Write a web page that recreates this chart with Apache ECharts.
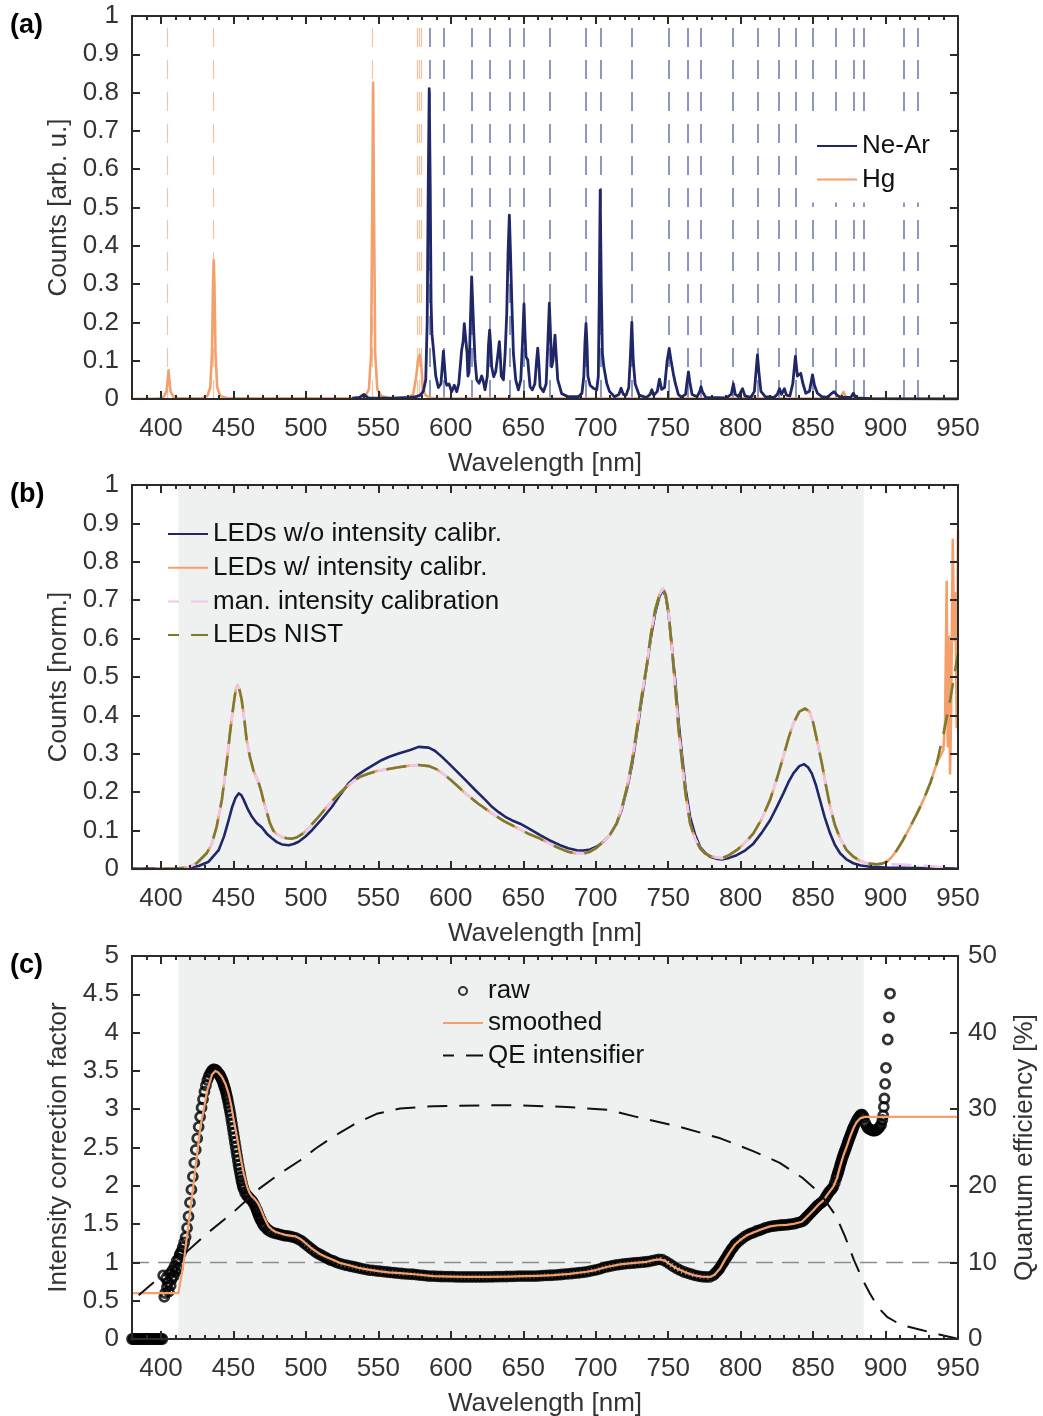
<!DOCTYPE html>
<html><head><meta charset="utf-8">
<script src="https://cdn.jsdelivr.net/npm/echarts@6/dist/echarts.min.js"></script>
<style>html,body{margin:0;padding:0;background:#fff}#chart{width:1043px;height:1416px}</style>
</head><body><div id="chart"></div>
<script>
// ---------------- tick values ----------------
const xMajorTicks = [400,450,500,550,600,650,700,750,800,850,900,950];
const xMinorTicks = [380,390,400,410,420,430,440,450,460,470,480,490,500,510,520,530,540,550,560,570,580,590,600,610,620,630,640,650,660,670,680,690,700,710,720,730,740,750,760,770,780,790,800,810,820,830,840,850,860,870,880,890,900,910,920,930,940,950];

// ---------------- panel (a) ----------------
const neArLineNm = [585.2,594.9,614.4,626.8,640.4,650.6,668.0,693.0,703.3,724.7,750.5,763.6,772.6,794.9,811.7,826.6,837.7,849.7,865.3,878.4,885.1,912.3,922.5];
const hgLineNm = [404.6,435.9,546.0,577.0,578.2,579.3];

const neArSpectrum = [[532,0.002],[537,0.004],[540,0.012],[543,0.003],[560,0.002],[572,0.004],[576,0.006],[579,0.01],[581,0.02],[582.7,0.05],[583.7,0.2],[584.4,0.55],[585.1,0.81],[585.8,0.55],[586.4,0.25],[587,0.17],[588,0.13],[589.6,0.06],[591.4,0.03],[593.2,0.04],[594.2,0.09],[594.9,0.125],[595.6,0.09],[596.5,0.045],[597.2,0.036],[598.8,0.039],[600.6,0.019],[602.4,0.036],[604.1,0.019],[605.5,0.04],[607.5,0.128],[608.5,0.15],[609.3,0.197],[610.5,0.193],[611.2,0.12],[611.8,0.06],[612.6,0.07],[613.5,0.2],[614.4,0.319],[615.2,0.24],[615.8,0.18],[616.7,0.102],[617.9,0.05],[619.5,0.041],[621.3,0.06],[622.5,0.045],[623.6,0.024],[625.2,0.06],[626,0.14],[626.8,0.18],[627.5,0.14],[628.2,0.084],[629.6,0.058],[631,0.072],[632.3,0.11],[633.5,0.15],[634.2,0.11],[634.8,0.06],[636.3,0.05],[637.5,0.12],[638.6,0.224],[639.5,0.38],[640.4,0.48],[641.2,0.38],[642,0.267],[643.2,0.119],[644.8,0.05],[646.6,0.024],[648.3,0.05],[649.5,0.15],[650.5,0.248],[651.3,0.16],[651.9,0.11],[653.1,0.102],[653.8,0.07],[654.7,0.032],[656.3,0.024],[658,0.04],[659.2,0.1],[660,0.133],[660.8,0.09],[661.6,0.032],[663.9,0.019],[665.8,0.04],[667,0.15],[668,0.25],[668.9,0.16],[669.6,0.084],[670.5,0.1],[671.9,0.167],[672.8,0.11],[673.8,0.05],[676.5,0.014],[681,0.006],[688,0.006],[690.5,0.015],[691.8,0.06],[692.6,0.15],[693.3,0.197],[694,0.14],[694.6,0.06],[696.1,0.036],[698.4,0.028],[700.7,0.024],[701.8,0.06],[702.4,0.25],[703.1,0.545],[703.8,0.3],[704.6,0.12],[705.6,0.084],[707.6,0.041],[709.5,0.02],[713,0.006],[716,0.012],[717.5,0.028],[719,0.012],[721,0.01],[722.8,0.03],[723.8,0.1],[724.9,0.2],[725.9,0.1],[727.2,0.04],[730,0.01],[735,0.004],[737.5,0.012],[738.7,0.024],[740,0.01],[742.5,0.02],[744,0.052],[745.5,0.025],[747.5,0.03],[749.3,0.1],[750.7,0.132],[752.2,0.095],[753.6,0.065],[755,0.04],[757,0.012],[759,0.005],[762,0.012],[763.2,0.05],[764,0.071],[764.9,0.045],[766.5,0.012],[770,0.006],[771.8,0.02],[772.7,0.032],[773.7,0.018],[776,0.004],[790,0.003],[793.5,0.012],[795,0.04],[796.3,0.012],[798.5,0.006],[801.3,0.027],[803,0.008],[807,0.004],[809.5,0.02],[810.6,0.07],[811.6,0.115],[812.6,0.07],[814,0.02],[817,0.006],[823,0.004],[825.3,0.012],[826.8,0.027],[828.2,0.012],[830.2,0.027],[831.6,0.01],[834,0.008],[836,0.04],[837.8,0.111],[839.2,0.06],[840,0.058],[841.5,0.067],[843,0.04],[845,0.015],[847.5,0.02],[849.6,0.063],[851,0.035],[853,0.015],[856,0.006],[860,0.004],[862,0.012],[864.5,0.019],[866.5,0.01],[869,0.004],[876,0.004],[877.8,0.015],[879.5,0.003],[890,0.001],[950,0]];

const hgSpectrum = [[380,0],[398,0.001],[402,0.006],[403.8,0.02],[404.6,0.05],[405.2,0.075],[405.8,0.05],[406.6,0.02],[408.5,0.006],[412,0.002],[428,0.002],[432,0.008],[434,0.03],[435.2,0.12],[435.9,0.3],[436.4,0.362],[436.9,0.3],[437.6,0.12],[438.8,0.03],[441,0.008],[446,0.002],[536,0.002],[541,0.008],[543.5,0.025],[545,0.12],[545.8,0.5],[546.4,0.826],[547,0.5],[547.8,0.12],[549.3,0.025],[552,0.008],[558,0.002],[570,0.003],[574,0.012],[576.2,0.06],[577.3,0.1],[578.6,0.115],[579.6,0.09],[580.5,0.04],[582,0.012],[585,0.004],[590,0.001],[800,0.001],[808.8,0.006],[812,0.001],[868,0.001],[871,0.018],[873,0.001],[950,0]];

// ---------------- panel (b) ----------------
const ledsUncalibrated = [[380,0.002],[412,0.002],[417.7,0.003],[426,0.008],[432.9,0.019],[439.8,0.049],[443.5,0.085],[446.7,0.127],[449,0.16],[451.3,0.184],[453.6,0.197],[455.5,0.192],[457.1,0.18],[460,0.155],[462.8,0.136],[466,0.12],[469.7,0.108],[473,0.092],[476.6,0.08],[480,0.07],[483.5,0.064],[488.1,0.062],[491.5,0.065],[495,0.071],[499.5,0.084],[504.2,0.101],[511,0.13],[518,0.162],[524,0.195],[529.5,0.223],[535,0.243],[541,0.258],[547,0.272],[552.5,0.284],[558,0.293],[564,0.301],[572,0.31],[577.8,0.318],[584.7,0.316],[589,0.308],[593.9,0.292],[600,0.27],[605,0.251],[610,0.232],[617,0.205],[623.8,0.18],[628.4,0.162],[633,0.148],[637.6,0.136],[642,0.127],[647.8,0.118],[654,0.105],[661.6,0.088],[668,0.075],[675.4,0.062],[681,0.054],[686.9,0.049],[691.5,0.048],[696.1,0.051],[700.5,0.058],[705.3,0.071],[710,0.09],[714.5,0.119],[718,0.155],[721.4,0.206],[725,0.27],[728.3,0.353],[731.7,0.44],[735.2,0.527],[738,0.6],[741,0.666],[744,0.71],[746.3,0.727],[748.3,0.71],[750.2,0.666],[752.5,0.58],[754.8,0.493],[757,0.39],[759.4,0.302],[762,0.21],[765.1,0.136],[768.5,0.09],[772,0.058],[775.5,0.042],[778.9,0.032],[783,0.027],[787,0.025],[792,0.029],[797.3,0.036],[803,0.048],[808.8,0.066],[814.5,0.094],[820.3,0.127],[825,0.162],[829.5,0.197],[833,0.226],[836.4,0.249],[840.5,0.268],[843.8,0.273],[846.5,0.265],[849.1,0.249],[852,0.218],[854.8,0.179],[858,0.135],[861.7,0.093],[865,0.063],[868.6,0.041],[873,0.025],[877.8,0.015],[883,0.009],[889.3,0.006],[900,0.004],[912.4,0.003],[935.4,0.002],[950,0.001]];

const ledsNist = [[380,0],[412,0.001],[417.7,0.003],[424.6,0.015],[431.5,0.041],[435,0.065],[438.4,0.11],[442,0.18],[445.3,0.275],[447.8,0.36],[449.9,0.423],[451.5,0.465],[452.7,0.479],[454,0.47],[455.7,0.44],[457.5,0.39],[459.1,0.336],[461.5,0.29],[463.7,0.258],[465.5,0.24],[467.2,0.227],[469,0.205],[470.6,0.18],[473,0.148],[475.2,0.119],[477.5,0.1],[479.8,0.091],[483,0.084],[486.7,0.08],[490,0.079],[493.6,0.082],[497,0.09],[500.5,0.101],[505,0.12],[509.7,0.14],[514,0.16],[518.9,0.18],[523.5,0.198],[528.1,0.214],[532.5,0.228],[537.3,0.24],[543,0.248],[548.8,0.255],[556,0.26],[564,0.265],[571,0.269],[577.8,0.271],[585,0.268],[590,0.26],[594,0.25],[600,0.232],[605,0.215],[610,0.197],[619,0.17],[628.4,0.145],[637,0.124],[646.8,0.105],[654,0.091],[661.6,0.079],[668,0.066],[675.4,0.053],[681,0.045],[686.9,0.04],[691.5,0.04],[696.1,0.045],[700.5,0.055],[705.3,0.071],[710,0.09],[714.5,0.119],[718,0.16],[721.4,0.21],[725,0.28],[728.3,0.362],[731.7,0.45],[735.2,0.53],[738,0.61],[741,0.675],[744,0.715],[746.3,0.731],[748.3,0.715],[750.2,0.67],[752.5,0.58],[754.8,0.475],[757,0.37],[759.4,0.284],[762,0.195],[765.1,0.119],[768.5,0.08],[772,0.054],[775.5,0.04],[778.9,0.034],[783,0.03],[787,0.028],[792,0.036],[797.3,0.049],[803,0.068],[808.8,0.093],[814.5,0.13],[820.3,0.18],[825,0.235],[829.5,0.293],[833,0.34],[836.4,0.379],[840.5,0.41],[844.5,0.418],[847.5,0.41],[850.2,0.379],[853,0.33],[856,0.276],[859,0.215],[861.7,0.163],[865,0.115],[868.6,0.08],[873,0.05],[877.8,0.032],[882,0.022],[887,0.015],[894,0.012],[897.5,0.014],[900.9,0.019],[904,0.03],[907.8,0.049],[912,0.075],[917,0.11],[921.5,0.143],[926.2,0.18],[931,0.225],[935.4,0.276],[940,0.353],[944.6,0.44],[949.2,0.544],[950,0.56]];

// calibrated LEDs follow the NIST curve up to ~939 nm, then the noisy tail read below
const ledsCalibratedTail = [[939.9,0.31],[941.1,0.388],[942.2,0.748],[942.9,0.32],[943.8,0.605],[944.5,0.249],[945.2,0.397],[946.4,0.857],[947.3,0.596],[948.2,0.718],[949.1,0.37],[950,0.883]];
// manual calibration follows the NIST curve up to ~894 nm, then this flat tail
const manCalibrationTail = [[897,0.012],[905,0.012],[915,0.011],[925,0.009],[935,0.006],[945,0.002],[950,0]];

// ---------------- panel (c) ----------------
const rawFactor = [[380,0],[381,0],[382,0],[383,0],[384,0],[385,0],[386,0],[387,0],[388,0],[389,0],[390,0],[391,0],[392,0],[393,0],[394,0],[395,0],[396,0],[397,0],[398,0],[399,0],[400,0],[401,0],
[401.5,0.83],[402.3,0.55],[402.9,0.6],[403.5,0.79],[404.1,0.68],[404.8,0.74],[405.4,0.62],[406,0.85],[406.7,0.7],[407.3,0.78],[408,0.9],[408.7,0.82],[409.4,0.95],[410.1,0.88],[410.8,1.02],[411.5,0.92],[412.2,1.05],[412.9,1.1],[413.6,1.12],[414.3,1.15],[415,1.2],[416,1.26],
[417,1.33],[418,1.45],[419,1.6],[420,1.78],[421,1.95],[422,2.12],[423,2.3],[424,2.47],[425,2.62],[426,2.77],[427,2.9],[428,3.02],[429,3.13],[430,3.23],[431,3.31],[432,3.38],[433,3.43],[434,3.47],[435,3.5],[436,3.52],[437,3.52],[438,3.51],[439,3.49],[440,3.46],[440.5,3.45],[441,3.43],[441.5,3.41],[442,3.39],[442.5,3.37],[443,3.34],[443.5,3.31],[444,3.28],[444.5,3.25],[445,3.21],[445.5,3.17],[446,3.13],[446.5,3.08],[447,3.03],[447.5,2.98],[448,2.93],[448.5,2.87],[449,2.81],[449.5,2.75],[450,2.69],[450.5,2.63],[451,2.57],[451.5,2.51],[452,2.45],[452.5,2.39],[453,2.33],[453.5,2.27],[454,2.22],[454.5,2.17],[455,2.12],[455.5,2.07],[456,2.03],[456.5,1.99],[457,1.96],[458,1.91],[459,1.88],[460,1.86],[461,1.84],[462,1.82],[463,1.8],[464,1.77],[465,1.73],[466,1.69],[466.5,1.665],[467,1.64],[467.5,1.615],[468,1.59],[468.5,1.57],[469,1.55],[470,1.51],[471,1.48],[472,1.46],[473.5,1.43],[475,1.41],[477,1.39],[479,1.38],[481,1.37],[483,1.36],[485,1.35],[487,1.345],[489,1.34],[491,1.33],[493,1.32],[495,1.3],[497,1.28],[499,1.25],[501,1.22],[503,1.19],[505,1.16],[507,1.13],[509,1.11],[511,1.09],[513,1.07],[515,1.05],[517,1.03],[519,1.02],[521,1.0],[523.5,0.985],[526,0.97],[528.5,0.96],[531,0.95],[533.5,0.94],[536,0.93],[538.5,0.92],[541,0.91],[543.5,0.9],[546,0.895],[548.5,0.89],[551,0.885],[553.5,0.88],[556,0.875],[558.5,0.87],[561,0.865],[563.5,0.86],[566,0.855],[568.5,0.85],[571,0.848],[573.5,0.845],[576,0.84],[578.5,0.835],[581,0.83],[583.5,0.825],[586,0.822],[588.5,0.82],[591,0.818],[593.5,0.816],[596,0.815],[598.5,0.814],[601,0.813],[603.5,0.812],[606,0.81],[608.5,0.81],[611,0.81],[613.5,0.81],[616,0.81],[618.5,0.81],[621,0.81],[623.5,0.81],[626,0.812],[628.5,0.812],[631,0.813],[633.5,0.814],[636,0.815],[638.5,0.816],[641,0.817],[643.5,0.818],[646,0.82],[648.5,0.82],[651,0.82],[653.5,0.82],[656,0.82],[658.5,0.822],[661,0.825],[663.5,0.827],[666,0.83],[668.5,0.832],[671,0.834],[673.5,0.838],[676,0.842],[678.5,0.846],[681,0.85],[683.5,0.855],[686,0.86],[688.5,0.865],[691,0.87],[693.5,0.877],[696,0.887],[698.5,0.895],[701,0.905],[703.5,0.92],[706,0.935],[708.5,0.945],[711,0.955],[713.5,0.965],[716,0.972],[718.5,0.978],[721,0.983],[723.5,0.988],[726,0.992],[728.5,0.996],[731,1.0],[733.5,1.005],[736,1.01],[738.5,1.02],[741,1.03],[743.5,1.04],[746,1.035],[748.5,1.01],[751,0.98],[753.5,0.95],[756,0.92],[758.5,0.895],[761,0.875],[763.5,0.86],[766,0.845],[768.5,0.83],[771,0.82],[773.5,0.813],[776,0.81],[778.5,0.81],[781,0.83],[782,0.85],[783,0.87],[784,0.89],[785,0.91],[786,0.94],[787,0.97],[788,1.0],[789,1.03],[790,1.06],[791,1.09],[792,1.12],[793,1.15],[794,1.18],[795,1.2],[796,1.23],[797,1.25],[799,1.28],[801,1.31],[803,1.34],[805,1.36],[807,1.38],[809,1.39],[811,1.41],[813,1.42],[815,1.435],[817,1.45],[819,1.46],[821,1.47],[823,1.475],[825,1.48],[827,1.485],[829,1.488],[831,1.49],[833,1.495],[835,1.5],[837,1.505],[839,1.515],[841,1.525],[843,1.54],[844,1.56],[845,1.58],[846,1.6],[847,1.62],[848,1.64],[849,1.66],[850,1.68],[851,1.7],[852,1.72],[853,1.74],[854,1.755],[855,1.77],[856,1.785],[857,1.8],[858,1.83],[859,1.86],[860,1.89],[861,1.92],[862,1.94],[863,1.96],[864,1.99],[865,2.04],[866,2.1],[866.5,2.13],[867,2.16],[867.5,2.19],[868,2.22],[868.5,2.255],[869,2.29],[869.5,2.32],[870,2.35],[870.5,2.38],[871,2.41],[871.5,2.435],[872,2.46],[872.5,2.485],[873,2.51],[873.5,2.54],[874,2.57],[874.5,2.595],[875,2.62],[875.5,2.645],[876,2.67],[876.5,2.695],[877,2.72],[877.5,2.745],[878,2.77],[879,2.81],[880,2.85],[881,2.88],[882,2.91],[883,2.93],[884,2.93],[885,2.9],[886,2.82],[887,2.78],[888,2.75],[889,2.74],[890,2.73],[891,2.72],[892,2.72],[893,2.72],[894,2.73],[895,2.75],[896,2.77],[897,2.8],[897.8,2.86],[898.4,2.92],[898.8,3.03],[899.2,3.14],[899.7,3.33],[900.3,3.54],[901.5,3.91],[902.4,4.2],[903.1,4.51]];

const smoothedFactor = [[380,0.6],[412,0.6],[415.7,1.0],[421.4,1.86],[427.2,2.77],[432,3.25],[435.2,3.45],[437.5,3.5],[439.5,3.48],[442.1,3.42],[444.5,3.33],[446.7,3.2],[448.5,3.05],[450.2,2.86],[452,2.68],[453.6,2.51],[455.4,2.32],[457.1,2.16],[459.4,1.99],[461,1.91],[462.8,1.86],[465,1.82],[467,1.77],[469,1.69],[470.9,1.6],[472.6,1.53],[474.3,1.47],[476.5,1.43],[478.9,1.4],[482,1.38],[485.8,1.36],[489,1.35],[492.7,1.34],[495,1.32],[497.3,1.29],[500.5,1.24],[504.2,1.18],[509.7,1.11],[514,1.07],[519,1.03],[524,0.99],[530.6,0.96],[536,0.93],[542,0.91],[550,0.885],[557,0.87],[565,0.86],[575,0.845],[588,0.82],[600,0.815],[611,0.81],[625,0.81],[640,0.815],[650,0.82],[660,0.825],[670.8,0.834],[682,0.85],[693.8,0.878],[700,0.9],[707.6,0.94],[716.8,0.975],[725,0.99],[735.2,1.008],[740,1.03],[744.4,1.04],[748,1.02],[750,0.99],[755.9,0.92],[762,0.87],[767.4,0.834],[773,0.815],[778.9,0.81],[782,0.84],[785.8,0.92],[789,1.03],[792.7,1.14],[796,1.23],[799.6,1.29],[804,1.35],[808.8,1.39],[814,1.43],[820.3,1.47],[826,1.485],[831.8,1.49],[837,1.505],[842.2,1.53],[846,1.6],[850.2,1.68],[853.5,1.75],[857.1,1.81],[860.5,1.9],[864,1.99],[866.5,2.1],[868.6,2.25],[871,2.4],[873.2,2.51],[875.5,2.64],[877.8,2.75],[880,2.83],[882.4,2.88],[885.9,2.9],[950,2.9]];

const qeIntensifier = [[384.6,5.7],[400,8.2],[416.7,11.2],[430,13.5],[449,16.4],[468.3,19.7],[482,21.6],[495.9,23.3],[507,24.9],[518.9,26.4],[533,28],[548.8,29.4],[565,30.1],[588,30.4],[620,30.5],[648,30.5],[680,30.3],[709,29.9],[728,29.0],[758,27.7],[786,26.2],[809,24.5],[827,23.0],[843,21.0],[855,19.0],[866,16.0],[872,13.4],[878,10.4],[884,7.8],[889,6.0],[895,4.1],[901,2.9],[910,1.9],[924,1.2],[937,0.6],[949,0.06]];

const shadedRange = [412, 885];
const referenceFactor = 1;

// ---------------- styling ----------------
const FONT = '"Liberation Sans", Arial, Helvetica, sans-serif';
const AX = '#2a2a2a';
const TXT = '#333333';
const NAVY = '#1f2768';
const ORANGE = '#f4a06c';
const OLIVE = '#7d7b2b';
const PINK = '#efc6ee';
const SHADE = '#eff1f0';

const grids = [
  {left:132, right:85, top:16, height:383, outerBoundsMode:'none'},
  {left:132, right:85, top:485, height:384, outerBoundsMode:'none'},
  {left:132, right:85, top:956, height:383, outerBoundsMode:'none'}
];

function xAxesFor(g) {
  const base = {type:'value', gridIndex:g, min:380, max:950, z:10, splitLine:{show:false}, axisPointer:{show:false}};
  const line = {show:true, onZero:false, lineStyle:{color:AX, width:2}};
  const noLine = {show:false, onZero:false};
  const major = {show:true, inside:true, length:8, customValues:xMajorTicks, lineStyle:{color:AX, width:2}};
  const minor = {show:true, inside:true, length:4, customValues:xMinorTicks, lineStyle:{color:AX, width:2}};
  return [
    Object.assign({}, base, {position:'bottom', axisLine:line, axisTick:major,
      axisLabel:{show:true, customValues:xMajorTicks, fontSize:26, fontFamily:FONT, color:TXT, margin:17},
      name:'Wavelength [nm]', nameLocation:'middle', nameGap:52,
      nameTextStyle:{fontSize:26, fontFamily:FONT, color:TXT}}),
    Object.assign({}, base, {position:'bottom', axisLine:noLine, axisTick:minor, axisLabel:{show:false}}),
    Object.assign({}, base, {position:'top', axisLine:line, axisTick:major, axisLabel:{show:false}}),
    Object.assign({}, base, {position:'top', axisLine:noLine, axisTick:minor, axisLabel:{show:false}})
  ];
}

function yAxisFor(g, pos, min, max, interval, showLabel, name, gap) {
  const o = {type:'value', gridIndex:g, position:pos, min:min, max:max, interval:interval, z:10,
    splitLine:{show:false}, axisPointer:{show:false},
    axisLine:{show:true, onZero:false, lineStyle:{color:AX, width:2}},
    axisTick:{show:true, inside:true, length:8, lineStyle:{color:AX, width:2}},
    axisLabel:{show:showLabel, fontSize:26, fontFamily:FONT, color:TXT, margin:pos==='left'?13:10}};
  if (name) {
    o.name = name; o.nameLocation = 'middle'; o.nameGap = gap; o.nameRotate = 90;
    o.nameTextStyle = {fontSize:26, fontFamily:FONT, color:TXT};
  }
  return o;
}

const xAxes = [].concat(xAxesFor(0), xAxesFor(1), xAxesFor(2));
const yAxes = [
  yAxisFor(0,'left',0,1,0.1,true,'Counts [arb. u.]',54),
  yAxisFor(0,'right',0,1,0.1,false),
  yAxisFor(1,'left',0,1,0.1,true,'Counts [norm.]',54),
  yAxisFor(1,'right',0,1,0.1,false),
  yAxisFor(2,'left',0,5,0.5,true,'Intensity correction factor',54),
  yAxisFor(2,'right',0,50,10,true,'Quantum efficiency [%]',54)
];

function vLines(nmList, color, width) {
  return {silent:true, symbol:['none','none'], z:1, animation:false,
    label:{show:false}, emphasis:{disabled:true},
    lineStyle:{type:[19,13], width:width, color:color},
    data:nmList.map(function(v){return {xAxis:v};})};
}
function shadeArea() {
  return {silent:true, z:0.5, itemStyle:{color:SHADE}, label:{show:false}, emphasis:{disabled:true},
    data:[[{xAxis:shadedRange[0]},{xAxis:shadedRange[1]}]]};
}
function lineSeries(name, data, xi, yi, color, width, dash, extra) {
  const s = {name:name, type:'line', xAxisIndex:xi, yAxisIndex:yi, data:data, symbol:'none', showSymbol:false,
    color:color, lineStyle:{color:color, width:width, type:dash || 'solid', join:'round', cap:'butt'},
    emphasis:{disabled:true}, animation:false, z:2};
  return Object.assign(s, extra || {});
}

const calibratedLeds = ledsNist.filter(function(p){return p[0] <= 939;}).concat(ledsCalibratedTail);
const manCalibration = ledsNist.filter(function(p){return p[0] <= 894;}).concat(manCalibrationTail);

const series = [
  // (a)
  {name:'NeAr ref', type:'line', xAxisIndex:0, yAxisIndex:0, data:[], markLine:vLines(neArLineNm, '#6877a6', 1.5)},
  {name:'Hg ref', type:'line', xAxisIndex:0, yAxisIndex:0, data:[], markLine:vLines(hgLineNm, '#f7c2a0', 1.2)},
  lineSeries('Hg', hgSpectrum, 0, 0, ORANGE, 2.6),
  lineSeries('Ne-Ar', neArSpectrum, 0, 0, NAVY, 2.8),
  // (b)
  lineSeries('LEDs w/o intensity calibr.', ledsUncalibrated, 4, 2, NAVY, 2.6, null, {markArea:shadeArea()}),
  lineSeries('LEDs w/ intensity calibr.', calibratedLeds, 4, 2, ORANGE, 2.6),
  lineSeries('man. intensity calibration', manCalibration, 4, 2, PINK, 2.6, [20,12], {lineStyle:{color:PINK,width:2.6,type:[20,12],dashOffset:9,join:'round'}}),
  lineSeries('LEDs NIST', ledsNist, 4, 2, OLIVE, 2.6, [20,12]),
  // (c)
  {name:'raw', type:'scatter', xAxisIndex:8, yAxisIndex:4, data:rawFactor, symbol:'circle', symbolSize:9,
    itemStyle:{color:'rgba(0,0,0,0)', borderColor:'#000', borderWidth:2.8}, emphasis:{disabled:true}, animation:false, z:2,
    markArea:shadeArea(),
    markLine:{silent:true, symbol:['none','none'], z:1, label:{show:false}, emphasis:{disabled:true},
      lineStyle:{type:[17,9], width:1.3, color:'#8c8c8c'}, data:[{yAxis:referenceFactor}]}},
  lineSeries('smoothed', smoothedFactor, 8, 4, ORANGE, 2.2, null, {z:3}),
  lineSeries('QE intensifier', qeIntensifier, 8, 5, '#111111', 2, [20,12], {z:4})
];

const legendText = {fontSize:26, fontFamily:FONT, color:'#111', lineHeight:30};
const hideSymbol = {color:'rgba(0,0,0,0)', borderWidth:0, opacity:0};
const legends = [
  {data:['Ne-Ar','Hg'], orient:'vertical', left:812, top:123, padding:[8,6,8,4], backgroundColor:'#fff',
    itemWidth:40, itemHeight:14, itemGap:3.4, itemStyle:hideSymbol, textStyle:legendText, selectedMode:false, z:4},
  {data:['LEDs w/o intensity calibr.','LEDs w/ intensity calibr.','man. intensity calibration','LEDs NIST'],
    orient:'vertical', left:167, top:519, padding:0, itemWidth:40, itemHeight:14, itemGap:3.7, itemStyle:hideSymbol, textStyle:legendText, selectedMode:false},
  {data:[{name:'raw', icon:'circle'}], orient:'vertical', left:458, top:976, padding:0, itemWidth:40, itemHeight:8,
    itemStyle:{color:'rgba(0,0,0,0)', borderColor:'#000', borderWidth:2}, textStyle:legendText, selectedMode:false},
  {data:['smoothed','QE intensifier'], orient:'vertical', left:442, top:1008, padding:0, itemWidth:40, itemHeight:14,
    itemGap:2.5, itemStyle:hideSymbol, textStyle:legendText, selectedMode:false}
];

const chart = echarts.init(document.getElementById('chart'), null, {renderer:'canvas'});
chart.setOption({
  backgroundColor:'#ffffff',
  animation:false,
  grid:grids,
  xAxis:xAxes,
  yAxis:yAxes,
  legend:legends,
  series:series,
  graphic:[
    {type:'text', left:10, top:12, style:{text:'(a)', font:'bold 27px "Liberation Sans", Arial, sans-serif', fill:'#000'}},
    {type:'text', left:10, top:481, style:{text:'(b)', font:'bold 27px "Liberation Sans", Arial, sans-serif', fill:'#000'}},
    {type:'text', left:10, top:952, style:{text:'(c)', font:'bold 27px "Liberation Sans", Arial, sans-serif', fill:'#000'}}
  ]
});
</script></body></html>
